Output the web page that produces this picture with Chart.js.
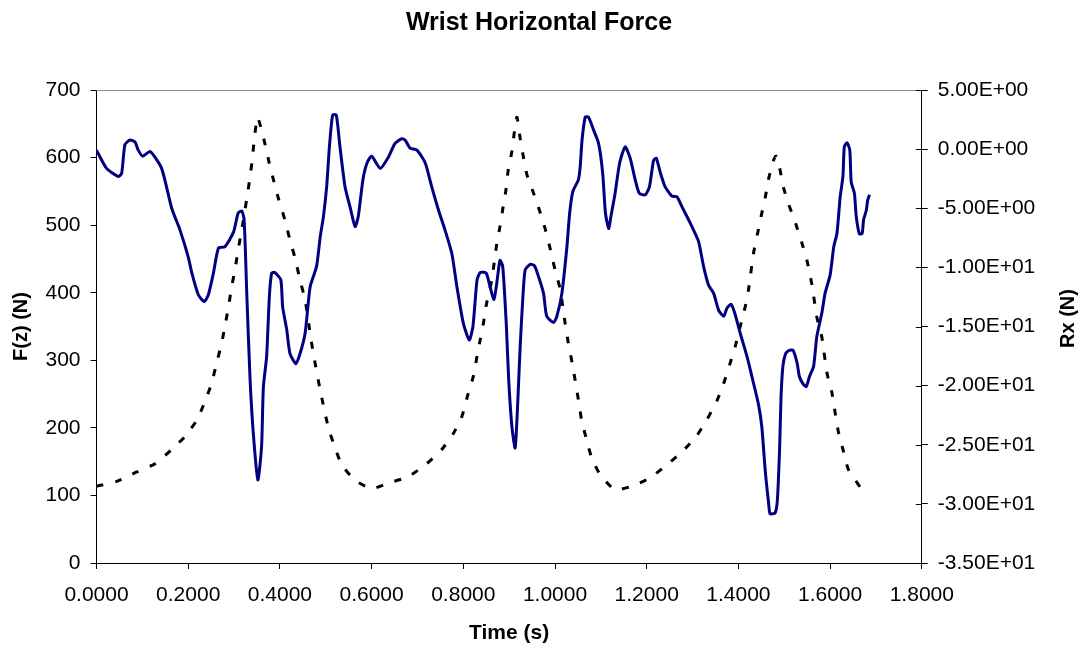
<!DOCTYPE html>
<html>
<head>
<meta charset="utf-8">
<title>Wrist Horizontal Force</title>
<script src="https://cdn.jsdelivr.net/npm/chart.js@4.4.1/dist/chart.umd.min.js"></script>
<style>
  html, body { margin: 0; padding: 0; background: #fff; }
  canvas { display: block; }
</style>
</head>
<body>
<canvas id="forceChart" width="1078" height="650"></canvas>
<script>
// vertical wrist force F(z), left axis
const timeF = [
  0.000, 0.022, 0.048, 0.055, 0.062, 0.073, 0.084, 0.091, 0.101, 0.117,
  0.142, 0.164, 0.182, 0.200, 0.208, 0.222, 0.235, 0.244, 0.255, 0.266,
  0.280, 0.299, 0.309, 0.317, 0.322, 0.328, 0.335, 0.342, 0.352, 0.360,
  0.364, 0.371, 0.377, 0.382, 0.389, 0.402, 0.406, 0.415, 0.422, 0.435,
  0.444, 0.455, 0.466, 0.480, 0.488, 0.495, 0.502, 0.508, 0.515, 0.523,
  0.531, 0.542, 0.553, 0.564, 0.571, 0.581, 0.590, 0.600, 0.619, 0.637,
  0.651, 0.666, 0.673, 0.684, 0.699, 0.717, 0.731, 0.746, 0.760, 0.775,
  0.786, 0.800, 0.813, 0.821, 0.830, 0.837, 0.850, 0.859, 0.867, 0.873,
  0.880, 0.886, 0.894, 0.899, 0.906, 0.913, 0.918, 0.924, 0.930, 0.935,
  0.946, 0.955, 0.964, 0.975, 0.982, 0.997, 1.004, 1.015, 1.026, 1.032,
  1.039, 1.051, 1.055, 1.059, 1.066, 1.073, 1.084, 1.095, 1.104, 1.110,
  1.117, 1.122, 1.131, 1.141, 1.153, 1.164, 1.175, 1.184, 1.197, 1.206,
  1.215, 1.221, 1.230, 1.240, 1.255, 1.266, 1.277, 1.295, 1.313, 1.324,
  1.335, 1.346, 1.357, 1.368, 1.375, 1.384, 1.392, 1.404, 1.419, 1.433,
  1.444, 1.451, 1.459, 1.466, 1.469, 1.480, 1.485, 1.490, 1.493, 1.497,
  1.502, 1.509, 1.519, 1.528, 1.533, 1.541, 1.548, 1.555, 1.564, 1.571,
  1.582, 1.589, 1.600, 1.608, 1.615, 1.622, 1.628, 1.631, 1.637, 1.643,
  1.646, 1.653, 1.657, 1.664, 1.670, 1.673, 1.679, 1.682, 1.686
];
const forceZ = [
  611, 584, 572, 577, 619, 626, 623, 611, 602, 609,
  584, 525, 493, 453, 429, 397, 387, 397, 429, 466,
  468, 490, 518, 521, 508, 394, 271, 192, 123, 172,
  261, 305, 394, 429, 430, 419, 379, 345, 310, 295,
  310, 340, 409, 439, 483, 513, 557, 616, 663, 663,
  616, 557, 527, 498, 513, 567, 592, 602, 584, 601,
  621, 628, 626, 614, 611, 592, 557, 522, 493, 458,
  409, 355, 330, 350, 419, 430, 429, 407, 390, 414,
  448, 439, 350, 271, 202, 170, 226, 320, 394, 434,
  442, 440, 424, 399, 365, 356, 365, 399, 468, 518,
  550, 567, 587, 626, 660, 660, 641, 621, 577, 518,
  495, 513, 547, 592, 616, 599, 567, 547, 545, 557,
  596, 599, 577, 557, 543, 542, 527, 503, 476, 439,
  411, 399, 374, 365, 377, 383, 370, 340, 305, 266,
  234, 202, 133, 88, 73, 74, 93, 172, 246, 291,
  308, 314, 315, 296, 276, 265, 261, 276, 291, 335,
  370, 399, 426, 468, 488, 542, 572, 616, 622, 611,
  564, 547, 513, 487, 488, 508, 522, 537, 545
];

// horizontal reaction Rx, right axis
const timeRx = [
  0.000, 0.044, 0.088, 0.128, 0.164, 0.193, 0.219, 0.237, 0.251, 0.262,
  0.273, 0.280, 0.288, 0.295, 0.302, 0.309, 0.317, 0.324, 0.329, 0.335,
  0.340, 0.344, 0.351, 0.358, 0.368, 0.376, 0.386, 0.397, 0.411, 0.422,
  0.433, 0.444, 0.455, 0.466, 0.473, 0.488, 0.506, 0.520, 0.535, 0.564,
  0.600, 0.640, 0.680, 0.720, 0.753, 0.779, 0.797, 0.809, 0.822, 0.830,
  0.837, 0.844, 0.851, 0.862, 0.873, 0.880, 0.887, 0.893, 0.898, 0.906,
  0.911, 0.917, 0.924, 0.931, 0.939, 0.953, 0.968, 0.979, 0.990, 1.000,
  1.011, 1.022, 1.029, 1.039, 1.051, 1.058, 1.069, 1.080, 1.098, 1.131,
  1.168, 1.207, 1.244, 1.277, 1.308, 1.331, 1.353, 1.368, 1.382, 1.393,
  1.404, 1.415, 1.422, 1.433, 1.442, 1.450, 1.459, 1.466, 1.477, 1.482,
  1.490, 1.498, 1.510, 1.525, 1.539, 1.550, 1.561, 1.571, 1.582, 1.593,
  1.604, 1.611, 1.618, 1.628, 1.640, 1.666
];
const rx = [
  -28.5, -28.1, -27.3, -26.6, -25.4, -24.3, -22.9, -21.3, -19.8, -18.1,
  -16.4, -15.0, -13.3, -11.6, -10.2, -8.5, -6.8, -5.1, -3.9, -2.3,
  -0.8, 0.8, 2.7, 1.9, 0.35, -1.06, -2.6, -4.2, -6.0, -7.7,
  -9.2, -11.1, -12.75, -15.6, -17.3, -20.4, -23.6, -25.2, -26.7, -28.0,
  -28.7, -28.2, -27.7, -26.6, -25.4, -24.0, -22.6, -20.9, -19.2, -17.5,
  -16.1, -14.7, -13.0, -11.1, -8.0, -6.55, -4.86, -3.45, -1.76, -0.2,
  1.34, 2.7, 0.92, -0.64, -2.2, -3.7, -5.4, -6.8, -8.5, -10.2,
  -11.8, -14.7, -16.4, -18.4, -21.2, -22.9, -24.6, -26.1, -27.5, -28.8,
  -28.5, -27.8, -26.7, -25.6, -24.3, -22.9, -21.3, -19.8, -18.1, -16.7,
  -15.0, -13.3, -11.9, -8.8, -7.1, -5.6, -4.0, -2.5, -0.9, -0.6,
  -1.6, -3.2, -4.7, -6.3, -8.0, -9.5, -11.6, -14.2, -15.9, -18.9,
  -20.6, -22.3, -23.9, -25.4, -27.1, -28.6
];

// axis ranges and tick steps
const timeRange = [0, 1.8, 0.2];
const forceRange = [0, 700, 100];
const rxRange = [-35, 5, 5];

const FONT = "'Liberation Sans', Arial, sans-serif";
Chart.defaults.font.family = FONT;
Chart.defaults.color = '#000';

const fzPoints = timeF.map((t, i) => ({ x: t, y: forceZ[i] }));
const rxPoints = timeRx.map((t, i) => ({ x: t, y: rx[i] }));

// Excel style scientific labels: -3.50E+01
function sciLabel(v) {
  const parts = Number(v).toExponential(2).split('e');
  const e = parseInt(parts[1], 10);
  return parts[0] + 'E' + (e < 0 ? '-' : '+') + String(Math.abs(e)).padStart(2, '0');
}

// grey frame top, inner half of right-axis ticks, right axis title
const frameExtras = {
  id: 'frameExtras',
  afterDraw(chart) {
    const { ctx, chartArea } = chart;
    const right = chart.scales.y1;
    ctx.save();
    ctx.strokeStyle = '#8c8c8c';
    ctx.lineWidth = 1;
    ctx.beginPath();
    ctx.moveTo(chartArea.left, chartArea.top + 0.5);
    ctx.lineTo(chartArea.right, chartArea.top + 0.5);
    ctx.stroke();

    ctx.strokeStyle = '#000';
    ctx.beginPath();
    right.ticks.forEach(t => {
      const y = Math.round(right.getPixelForValue(t.value)) + 0.5;
      ctx.moveTo(chartArea.right - 6, y);
      ctx.lineTo(chartArea.right, y);
    });
    ctx.stroke();

    ctx.fillStyle = '#000';
    ctx.font = 'bold 20px ' + FONT;
    ctx.textAlign = 'center';
    ctx.textBaseline = 'middle';
    ctx.translate(chart.width - 10, (chartArea.top + chartArea.bottom) / 2 - 8);
    ctx.rotate(-Math.PI / 2);
    ctx.fillText('Rx (N)', 0, 0);
    ctx.restore();
  }
};

const axisGrid = { drawOnChartArea: false, drawTicks: true, tickLength: 6, color: '#000' };

new Chart(document.getElementById('forceChart'), {
  type: 'scatter',
  data: {
    datasets: [
      {
        label: 'F(z)',
        data: fzPoints,
        yAxisID: 'y',
        showLine: true,
        borderColor: '#000080',
        borderWidth: 3,
        pointRadius: 0,
        tension: 0.2
      },
      {
        label: 'Rx',
        data: rxPoints,
        yAxisID: 'y1',
        showLine: true,
        borderColor: '#000',
        borderWidth: 3,
        borderDash: [7, 12],
        pointRadius: 0,
        tension: 0.2
      }
    ]
  },
  options: {
    responsive: false,
    animation: false,
    layout: { padding: 0 },
    plugins: {
      legend: { display: false },
      tooltip: { enabled: false },
      title: {
        display: true,
        text: 'Wrist Horizontal Force',
        color: '#000',
        font: { size: 25, weight: 'bold' },
        padding: { top: 8, bottom: 52 }
      }
    },
    scales: {
      x: {
        type: 'linear',
        min: timeRange[0],
        max: timeRange[1],
        grid: axisGrid,
        border: { color: '#000', width: 1 },
        ticks: {
          stepSize: timeRange[2],
          padding: 14,
          maxRotation: 0,
          font: { size: 21 },
          callback: v => Number(v).toFixed(4)
        },
        title: {
          display: true,
          text: 'Time (s)',
          font: { size: 21, weight: 'bold' },
          padding: { top: 0, bottom: 4 }
        },
        afterFit: s => { s.height = 87; }
      },
      y: {
        position: 'left',
        min: forceRange[0],
        max: forceRange[1],
        grid: axisGrid,
        border: { color: '#000', width: 1 },
        ticks: {
          stepSize: forceRange[2],
          padding: 10,
          font: { size: 21 }
        },
        title: {
          display: true,
          text: 'F(z) (N)',
          font: { size: 20, weight: 'bold' },
          padding: { top: 9, bottom: 0 }
        },
        afterFit: s => { s.width = 96.5; }
      },
      y1: {
        position: 'right',
        min: rxRange[0],
        max: rxRange[1],
        grid: axisGrid,
        border: { color: '#000', width: 1 },
        ticks: {
          stepSize: rxRange[2],
          padding: 10,
          font: { size: 21 },
          callback: v => sciLabel(v)
        },
        afterFit: s => { s.width = 156.2; }
      }
    }
  },
  plugins: [frameExtras]
});
</script>
</body>
</html>
